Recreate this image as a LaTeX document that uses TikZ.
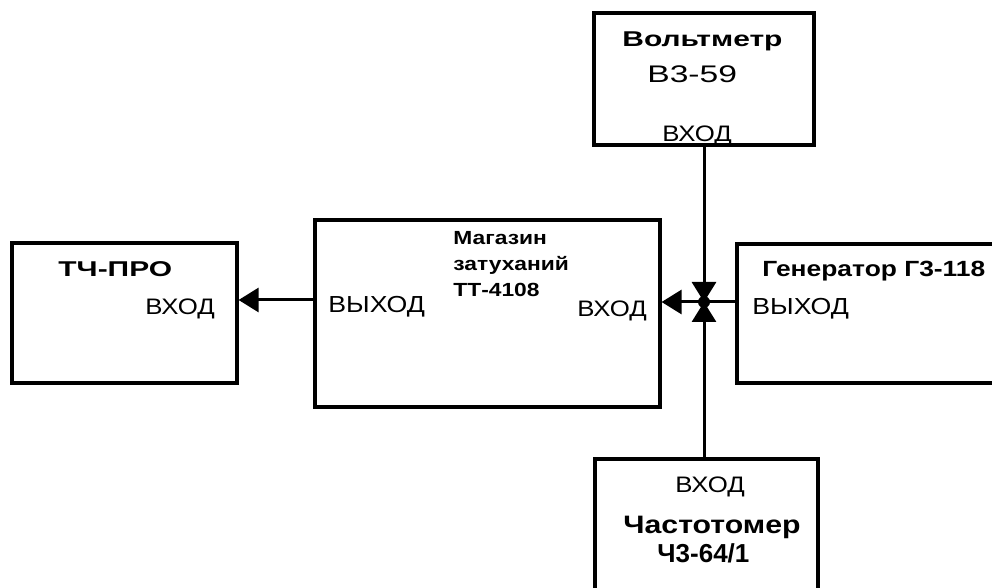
\documentclass[tikz,border=0pt]{standalone}
\usepackage{fontspec}
\setmainfont{Liberation Sans}
\newfontfamily\regf[FakeStretch=1.15]{Liberation Sans}
\newfontfamily\regw[FakeStretch=1.4]{Liberation Sans}
\newfontfamily\boldm[FakeStretch=1.2]{Liberation Sans Bold}
\newfontfamily\boldw[FakeStretch=1.4]{Liberation Sans Bold}
\usetikzlibrary{arrows.meta}
\tikzset{
  blok/.style={draw, line width=1.6pt, inner sep=0pt},
  vhod/.style={anchor=base west, inner sep=0pt, font=\regf\fontsize{11.2}{13}\selectfont},
  nazv/.style={anchor=base west, inner sep=0pt, font=\boldw\fontsize{10.7}{12}\selectfont},
  nazvm/.style={anchor=base west, inner sep=0pt, font=\boldm\fontsize{9.5}{11}\selectfont},
  svyaz/.style={line width=1.5pt, -{Triangle[length=10pt, width=12pt]}}
}
\begin{document}
\begin{tikzpicture}[x=0.5pt, y=-0.5pt]
\clip (0,0) rectangle (992,588);
\fill[white] (0,0) rectangle (992,588);

% Блоки
\node[blok, minimum width=112.5pt, minimum height=70pt] (tchpro) at (124.5,313) {};
\node[blok, minimum width=172.5pt, minimum height=93.5pt] (mag) at (487.5,313.5) {};
\node[blok, minimum width=110pt, minimum height=66pt] (volt) at (704,79) {};
\node[blok, minimum width=150pt, minimum height=69.5pt] (gen) at (887,313.5) {};
\node[blok, minimum width=111.5pt, minimum height=80pt] (chast) at (706.5,539) {};

% Надписи
\node[nazv] (t1) at (58,277) {ТЧ-ПРО};
\node[vhod] (t2) at (145,315) {ВХОД};

\node[nazvm] (t3) at (453,245) {Магазин};
\node[nazvm] (t4) at (453,271) {затуханий};
\node[nazvm] (t5) at (453,297) {ТТ-4108};
\node[vhod, font=\regf\fontsize{11.6}{13}\selectfont] (t6) at (328,313) {ВЫХОД};
\node[vhod] (t7) at (577,317) {ВХОД};

\node[nazv] (t8) at (622,47) {Вольтметр};
\node[vhod, font=\regw\fontsize{12}{14}\selectfont] (t9) at (647,83) {В3-59};
\node[vhod] (t10) at (662,142) {ВХОД};

\node[nazvm, font=\boldm\fontsize{11}{13}\selectfont] (t11) at (762,277) {Генератор Г3-118};
\node[vhod, font=\regf\fontsize{11.6}{13}\selectfont] (t12) at (752,315) {ВЫХОД};

\node[vhod] (t13) at (675,493) {ВХОД};
\node[nazvm, font=\boldm\fontsize{12.6}{14}\selectfont] (t14) at (623,533) {Частотомер};
\node[nazvm, font=\bfseries\fontsize{13}{15}\selectfont] (t15) at (657,563) {Ч3-64/1};

% Связи
\coordinate (uzel) at (704,302);
\draw[svyaz] (volt.south -| uzel) -- (uzel);
\draw[svyaz] (chast.north -| uzel) -- (uzel);
\draw[svyaz] (gen.west |- uzel) -- (uzel -| mag.east);
\fill (uzel) circle (3pt);
\draw[svyaz] (mag.west |- 0,300) -- (tchpro.east |- 0,300);
\end{tikzpicture}
\end{document}
